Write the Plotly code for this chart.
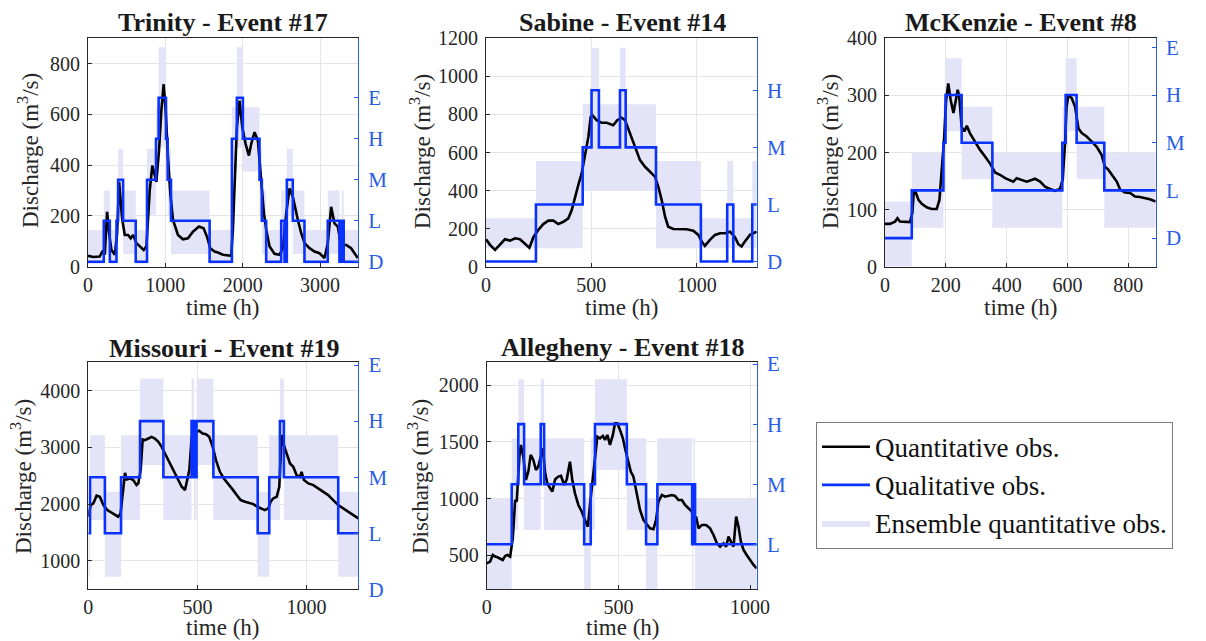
import plotly.graph_objects as go

# ---------------- data ----------------
LEVELS = ["D", "L", "M", "H", "E"]

# Trinity - Event #17
trinity_t = [0, 67, 150, 195, 217, 247, 273, 303, 346, 376,
             402, 420, 441, 475, 518, 552, 583, 626, 669, 720,
             755, 776, 798, 832, 862, 884, 918, 948, 978, 1004,
             1034, 1064, 1099, 1163, 1227, 1292, 1357, 1434, 1494, 1537,
             1580, 1636, 1679, 1744, 1851, 1873, 1894, 1925, 1959, 1994,
             2037, 2080, 2110, 2153, 2196, 2240, 2274, 2304, 2347, 2411,
             2476, 2519, 2562, 2605, 2648, 2713, 2756, 2799, 2863, 2928,
             2992, 3057, 3100, 3143, 3186, 3229, 3272, 3337, 3401, 3487]
trinity_q = [43, 38, 40, 64, 47, 216, 130, 66, 47, 130,
             334, 260, 190, 125, 125, 112, 125, 93, 80, 66,
             80, 184, 301, 399, 367, 334, 458, 615, 719, 615,
             432, 288, 184, 125, 108, 112, 138, 158, 151, 119,
             73, 60, 56, 47, 43, 145, 314, 549, 654, 549,
             484, 438, 484, 530, 497, 314, 210, 145, 80, 51,
             47, 73, 210, 308, 275, 184, 132, 93, 73, 60,
             53, 34, 93, 236, 171, 158, 80, 86, 73, 34]
trinity_bounds = [0, 204, 282, 368, 389, 454, 617, 763, 879, 913,
                  1008, 1030, 1073, 1572, 1860, 1924, 2002, 2217, 2247, 2303,
                  2497, 2540, 2570, 2647, 2798, 3099, 3250, 3280, 3305, 3490]
trinity_levels = ["D", "L", "D", "L", "M", "L", "D", "M", "H", "E",
                  "H", "M", "L", "D", "H", "E", "H", "M", "L", "D",
                  "L", "D", "M", "L", "D", "L", "D", "L", "D"]
trinity_band = {"D": (10, 145), "L": (50, 300), "M": (205, 465),
                "H": (375, 628), "E": (470, 865)}

# Sabine - Event #14
sabine_t = [0, 19, 43, 66, 90, 114, 138, 161, 185, 206,
            225, 248, 272, 296, 320, 343, 367, 391, 407, 422,
            438, 454, 470, 486, 497, 505, 525, 549, 573, 589,
            604, 623, 644, 660, 683, 707, 731, 755, 778, 802,
            818, 834, 850, 865, 889, 921, 952, 984, 1008, 1024,
            1039, 1063, 1087, 1111, 1134, 1158, 1182, 1198, 1213, 1229,
            1253, 1285]
sabine_q = [144, 115, 88, 115, 144, 137, 149, 144, 123, 100,
            155, 193, 224, 242, 242, 224, 236, 254, 298, 368,
            429, 490, 577, 682, 787, 796, 770, 756, 756, 748,
            743, 770, 783, 770, 700, 630, 560, 525, 502, 473,
            420, 350, 263, 210, 198, 198, 197, 189, 167, 132,
            109, 141, 167, 176, 176, 184, 155, 118, 106, 132,
            167, 184]
sabine_bounds = [0, 237, 459, 501, 536, 636, 663, 807, 1020, 1145, 1174, 1264, 1285]
sabine_levels = ["D", "L", "M", "H", "M", "H", "M", "L", "D", "L", "D", "L"]
sabine_band = {"D": (97, 254), "L": (97, 555), "M": (399, 853), "H": (399, 1150)}

# McKenzie - Event #8
mckenzie_t = [0, 16, 33, 41, 49, 66, 82, 90, 95, 102,
              110, 121, 137, 153, 170, 179, 186, 194, 201, 208,
              216, 225, 233, 239, 244, 252, 261, 269, 279, 296,
              312, 329, 345, 362, 378, 395, 411, 422, 433, 449,
              466, 482, 493, 510, 526, 543, 559, 575, 584, 592,
              597, 603, 614, 625, 636, 647, 663, 680, 696, 712,
              723, 734, 745, 762, 773, 789, 806, 822, 838, 855,
              871, 890]
mckenzie_q = [75, 75, 79, 85, 79, 78, 78, 94, 134, 129,
              117, 110, 104, 101, 101, 117, 164, 222, 292, 321,
              292, 269, 292, 310, 298, 245, 237, 247, 234, 219,
              205, 193, 181, 165, 161, 155, 151, 149, 155, 152,
              149, 152, 154, 149, 140, 136, 133, 136, 152, 216,
              280, 301, 295, 280, 242, 234, 228, 219, 210, 196,
              175, 170, 161, 149, 135, 130, 129, 123, 122, 120,
              118, 114]
mckenzie_bounds = [0, 88, 192, 199, 252, 353, 583, 594, 630, 721, 890]
mckenzie_levels = ["D", "L", "M", "H", "M", "L", "M", "H", "M", "L"]
mckenzie_band = {"D": (0, 114), "L": (68, 199), "M": (153, 280), "H": (237, 365)}

# Missouri - Event #19
missouri_t = [0, 11, 23, 38, 53, 69, 87, 107, 122, 137,
              148, 157, 168, 176, 191, 206, 221, 229, 240, 249,
              260, 275, 290, 305, 321, 336, 351, 366, 382, 397,
              412, 428, 443, 450, 463, 473, 484, 496, 508, 524,
              539, 554, 570, 585, 603, 621, 641, 661, 680, 698,
              718, 738, 756, 774, 794, 809, 825, 835, 847, 863,
              875, 886, 896, 909, 924, 939, 954, 970, 977, 988,
              1008, 1031, 1054, 1077, 1099, 1122, 1145, 1168, 1191, 1214,
              1237]
missouri_q = [1779, 1984, 2013, 2150, 2130, 1984, 1896, 1849, 1808, 1779,
              1837, 2130, 2553, 2435, 2453, 2424, 2336, 2365, 2600, 3139,
              3127, 3157, 3186, 3157, 3098, 3010, 2893, 2776, 2658, 2541,
              2424, 2306, 2250, 2365, 2600, 3150, 3250, 3274, 3292, 3245,
              3233, 3186, 3010, 2776, 2570, 2453, 2365, 2260, 2160, 2072,
              2042, 2013, 2001, 1955, 1925, 1896, 1925, 2042, 2101, 2130,
              2306, 3216, 3040, 2893, 2717, 2658, 2512, 2482, 2570, 2424,
              2365, 2336, 2277, 2218, 2160, 2072, 1984, 1925, 1867, 1808,
              1749]
missouri_bounds = [0, 8, 76, 150, 237, 344, 473, 484, 496, 573, 776, 829, 878, 896, 1145, 1237]
missouri_levels = ["L", "M", "L", "M", "H", "M", "H", "M", "H", "M", "L", "M", "H", "M", "L"]
missouri_band = {"L": (720, 2220), "M": (1720, 3215), "H": (2690, 4210)}

# Allegheny - Event #18
allegheny_t = [0, 13, 23, 32, 41, 51, 61, 70, 78, 89,
               99, 108, 114, 124, 130, 139, 149, 158, 167, 177,
               187, 196, 203, 213, 222, 230, 241, 249, 260, 272,
               282, 294, 304, 316, 325, 335, 348, 361, 373, 384,
               392, 403, 411, 420, 430, 441, 449, 458, 468, 479,
               487, 496, 506, 517, 525, 536, 547, 557, 570, 582,
               595, 608, 620, 633, 643, 652, 665, 677, 690, 703,
               715, 728, 741, 753, 766, 779, 785, 795, 804, 817,
               833, 848, 861, 874, 886, 899, 909, 918, 927, 937,
               947, 956, 965, 975, 987, 1000, 1013, 1025]
allegheny_q = [429, 444, 502, 488, 482, 473, 458, 494, 502, 488,
               649, 987, 972, 1369, 1472, 1369, 1163, 1237, 1384, 1340,
               1251, 1281, 1340, 1442, 1222, 1134, 1090, 1061, 1169, 1193,
               1199, 1119, 1169, 1325, 1163, 1046, 943, 884, 811, 752,
               943, 1193, 1369, 1545, 1530, 1551, 1516, 1560, 1472, 1560,
               1663, 1663, 1604, 1530, 1442, 1340, 1237, 1193, 1031, 899,
               811, 767, 737, 729, 811, 972, 1031, 1016, 1022, 1031,
               1022, 987, 987, 943, 914, 884, 811, 840, 737, 767,
               767, 737, 679, 605, 576, 605, 576, 664, 620, 576,
               840, 752, 620, 547, 502, 458, 414, 385]
allegheny_bounds = [0, 95, 120, 142, 205, 218, 370, 395, 411, 532, 605, 648, 780, 785, 791, 1025]
allegheny_levels = ["L", "M", "H", "M", "H", "M", "L", "M", "H", "M", "L", "M", "L", "M", "L"]
allegheny_band = {"L": (150, 995), "M": (723, 1530), "H": (1251, 2050)}

titles = ["Trinity - Event #17", "Sabine - Event #14", "McKenzie - Event #8",
          "Missouri - Event #19", "Allegheny - Event #18"]
x_ticks = [[0, 1000, 2000, 3000], [0, 500, 1000], [0, 200, 400, 600, 800],
           [0, 500, 1000], [0, 500, 1000]]
y_ticks = [[0, 200, 400, 600, 800], [0, 200, 400, 600, 800, 1000, 1200],
           [0, 100, 200, 300, 400], [1000, 2000, 3000, 4000], [500, 1000, 1500, 2000]]

# ---------------- styling / layout (pixels in a 1206x641 canvas) ----------------
W, H = 1206, 641
FONT = "Liberation Serif"
BLUE = "#0a32ff"
AXBLUE = "#2a5ce6"
BAND = "#e4e4f8"
DARK = "#262626"
GRID = "#e4e4e4"

panels = [
    dict(t=trinity_t, q=trinity_q, b=trinity_bounds, lv=trinity_levels, band=trinity_band,
         px=(88, 358), py=(38.3, 266.7), xr=(0, 3490), yr=(0, 900), yr2=(0.88, 6.45),
         title_xy=(223, 23), xlab_xy=(222.5, 307), ylab_xy=(28, 151)),
    dict(t=sabine_t, q=sabine_q, b=sabine_bounds, lv=sabine_levels, band=sabine_band,
         px=(486, 756.7), py=(38.3, 266.7), xr=(0, 1285), yr=(0, 1200), yr2=(0.91, 4.91),
         title_xy=(622, 23), xlab_xy=(621.7, 307), ylab_xy=(420, 152)),
    dict(t=mckenzie_t, q=mckenzie_q, b=mckenzie_bounds, lv=mckenzie_levels, band=mckenzie_band,
         px=(885, 1155.7), py=(38.3, 266.7), xr=(0, 890), yr=(0, 400), yr2=(0.40, 5.19),
         title_xy=(1021, 23), xlab_xy=(1020, 307), ylab_xy=(828, 152)),
    dict(t=missouri_t, q=missouri_q, b=missouri_bounds, lv=missouri_levels, band=missouri_band,
         px=(88.3, 358.3), py=(361.7, 589.3), xr=(0, 1237), yr=(500, 4510), yr2=(1.0, 5.06),
         title_xy=(224, 348), xlab_xy=(222.5, 627), ylab_xy=(21, 477)),
    dict(t=allegheny_t, q=allegheny_q, b=allegheny_bounds, lv=allegheny_levels, band=allegheny_band,
         px=(486.7, 756.7), py=(362.3, 589.3), xr=(0, 1025), yr=(200, 2200), yr2=(1.25, 5.03),
         title_xy=(622, 347), xlab_xy=(622.5, 627), ylab_xy=(418, 477)),
]

fig = go.Figure()
layout = {}
annotations = []

for i, p in enumerate(panels):
    n = i + 1
    xa, ya, ya2 = f"x{n}", f"y{n}", f"y{n + 5}"
    show = (i == 0)

    # ensemble rectangles: one per qualitative segment
    bx, by = [], []
    for k, lv in enumerate(p["lv"]):
        lo, hi = p["band"][lv]
        x0, x1 = p["b"][k], p["b"][k + 1]
        bx += [x0, x1, x1, x0, x0, None]
        by += [lo, lo, hi, hi, lo, None]
    fig.add_trace(go.Scatter(x=bx, y=by, xaxis=xa, yaxis=ya, mode="lines",
                             fill="toself", fillcolor=BAND, line=dict(width=0, color=BAND),
                             name="Ensemble quantitative obs.", showlegend=show,
                             legendgroup="c", legendrank=3, hoverinfo="skip"))
    fig.add_trace(go.Scatter(x=p["t"], y=p["q"], xaxis=xa, yaxis=ya, mode="lines",
                             line=dict(color="black", width=2.6),
                             name="Quantitative obs.", showlegend=show,
                             legendgroup="a", legendrank=1))
    lvl_num = [LEVELS.index(l) + 1 for l in p["lv"]]
    fig.add_trace(go.Scatter(x=p["b"], y=lvl_num + [lvl_num[-1]], xaxis=xa, yaxis=ya2,
                             mode="lines", line=dict(color=BLUE, width=2.6, shape="hv"),
                             name="Qualitative obs.", showlegend=show,
                             legendgroup="b", legendrank=2))

    xdom = [p["px"][0] / W, p["px"][1] / W]
    ydom = [1 - p["py"][1] / H, 1 - p["py"][0] / H]
    layout[f"xaxis{n}"] = dict(domain=xdom, anchor=ya, range=list(p["xr"]), automargin=False,
                               tickvals=x_ticks[i], showgrid=True, gridcolor=GRID,
                               showline=True, mirror=True, linecolor=DARK, linewidth=1,
                               ticks="inside", ticklen=4, tickcolor=DARK, zeroline=False,
                               tickfont=dict(family=FONT, size=20, color=DARK))
    layout[f"yaxis{n}"] = dict(domain=ydom, anchor=xa, range=list(p["yr"]), automargin=False,
                               tickvals=y_ticks[i], showgrid=True, gridcolor=GRID,
                               showline=True, linecolor=DARK, linewidth=1,
                               ticks="inside", ticklen=4, tickcolor=DARK, zeroline=False,
                               ticklabelstandoff=3,
                               tickfont=dict(family=FONT, size=20, color=DARK))
    layout[f"yaxis{n + 5}"] = dict(overlaying=ya, anchor=xa, side="right", automargin=False,
                                   range=list(p["yr2"]), tickvals=[1, 2, 3, 4, 5],
                                   ticktext=LEVELS, showgrid=False, zeroline=False,
                                   showline=True, linecolor=AXBLUE, linewidth=1.2,
                                   ticks="inside", ticklen=4, tickcolor=AXBLUE,
                                   ticklabelstandoff=5,
                                   tickfont=dict(family=FONT, size=21, color=AXBLUE))

    annotations.append(dict(text="<b>" + titles[i] + "</b>", xref="paper", yref="paper",
                            x=p["title_xy"][0] / W, y=1 - p["title_xy"][1] / H,
                            xanchor="center", yanchor="middle", showarrow=False,
                            font=dict(family=FONT, size=26, color="#1a1a1a")))
    annotations.append(dict(text="time (h)", xref="paper", yref="paper",
                            x=p["xlab_xy"][0] / W, y=1 - p["xlab_xy"][1] / H,
                            xanchor="center", yanchor="middle", showarrow=False,
                            font=dict(family=FONT, size=23, color=DARK)))
    annotations.append(dict(text="Discharge (m<sup>3</sup>/s)", xref="paper", yref="paper",
                            x=p["ylab_xy"][0] / W, y=1 - p["ylab_xy"][1] / H,
                            xanchor="center", yanchor="middle", textangle=-90,
                            showarrow=False, font=dict(family=FONT, size=23, color=DARK)))

fig.update_layout(
    width=W, height=H, margin=dict(l=0, r=0, t=0, b=0, pad=0, autoexpand=False),
    paper_bgcolor="white", plot_bgcolor="white",
    annotations=annotations,
    showlegend=True,
    legend=dict(x=816 / W, y=1 - 421.7 / H, xanchor="left", yanchor="top",
                bgcolor="white", bordercolor="#7a7a7a", borderwidth=1,
                font=dict(family=FONT, size=27, color="#111111"),
                itemwidth=48, tracegroupgap=1, traceorder="normal"),
    **layout,
)
fig.update_layout(font_family=FONT)

fig.write_html("out.html", config={"displayModeBar": False},
               post_script="document.body.style.margin='0';document.body.style.overflow='hidden';")
